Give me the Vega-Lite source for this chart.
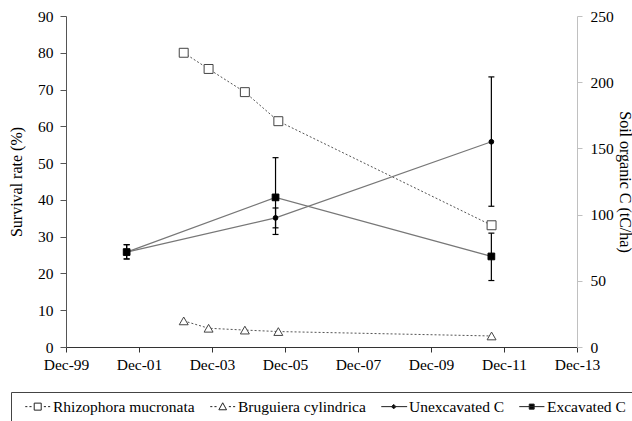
{
  "$schema": "https://vega.github.io/schema/vega-lite/v6.json",
  "width": 511,
  "height": 331,
  "autosize": "none",
  "padding": {"left": 66, "top": 16, "right": 55, "bottom": 74},
  "background": "white",
  "config": {
    "view": {"stroke": null},
    "font": "Liberation Serif",
    "axis": {
      "labelFont": "Liberation Serif",
      "titleFont": "Liberation Serif",
      "labelFontSize": 15.5,
      "titleFontSize": 16,
      "titleFontWeight": "normal",
      "labelColor": "black",
      "titleColor": "black",
      "grid": false
    },
    "legend": {
      "orient": "none",
      "legendX": -55,
      "legendY": 376,
      "direction": "horizontal",
      "columns": 4,
      "strokeColor": "#444",
      "padding": 6.5,
      "symbolSize": 196,
      "symbolOpacity": 1,
      "symbolStrokeWidth": 1,
      "labelFont": "Liberation Serif",
      "labelFontSize": 15.5,
      "labelColor": "black",
      "labelOffset": 20,
      "columnPadding": 7,
      "labelLimit": 300
    }
  },
  "datasets": {
    "survival": [
      {"date": "2003-02-21", "series": "Rhizophora mucronata", "value": 80},
      {"date": "2003-10-28", "series": "Rhizophora mucronata", "value": 75.6},
      {"date": "2004-10-25", "series": "Rhizophora mucronata", "value": 69.3},
      {"date": "2005-09-25", "series": "Rhizophora mucronata", "value": 61.4},
      {"date": "2011-07-30", "series": "Rhizophora mucronata", "value": 33.1},
      {"date": "2003-02-21", "series": "Bruguiera cylindrica", "value": 7.1},
      {"date": "2003-10-28", "series": "Bruguiera cylindrica", "value": 5.1},
      {"date": "2004-10-25", "series": "Bruguiera cylindrica", "value": 4.6},
      {"date": "2005-09-25", "series": "Bruguiera cylindrica", "value": 4.2},
      {"date": "2011-07-30", "series": "Bruguiera cylindrica", "value": 3.0}
    ],
    "soil": [
      {"date": "2001-07-30", "series": "Unexcavated C", "value": 71.7, "lo": 66.5, "hi": 77.3},
      {"date": "2005-08-28", "series": "Unexcavated C", "value": 97.5, "lo": 90, "hi": 105},
      {"date": "2011-07-28", "series": "Unexcavated C", "value": 155, "lo": 106.3, "hi": 204},
      {"date": "2001-07-30", "series": "Excavated C", "value": 71.7, "lo": 66.5, "hi": 77.3},
      {"date": "2005-08-28", "series": "Excavated C", "value": 113, "lo": 85, "hi": 143},
      {"date": "2011-07-28", "series": "Excavated C", "value": 68.4, "lo": 50.2, "hi": 86}
    ]
  },
  "layer": [
    {
      "data": {"name": "survival"},
      "encoding": {
        "x": {
          "field": "date", "type": "temporal",
          "scale": {"type": "utc", "domain": [{"year": 1999, "month": 12, "date": 1, "utc": true}, {"year": 2013, "month": 12, "date": 1, "utc": true}]},
          "axis": {
            "title": null, "format": "%b-%y",
            "values": [
              {"year": 1999, "month": 12, "date": 1, "utc": true},
              {"year": 2001, "month": 12, "date": 1, "utc": true},
              {"year": 2003, "month": 12, "date": 1, "utc": true},
              {"year": 2005, "month": 12, "date": 1, "utc": true},
              {"year": 2007, "month": 12, "date": 1, "utc": true},
              {"year": 2009, "month": 12, "date": 1, "utc": true},
              {"year": 2011, "month": 12, "date": 1, "utc": true},
              {"year": 2013, "month": 12, "date": 1, "utc": true}
            ],
            "domainColor": "#333", "tickColor": "#333", "tickSize": 5, "labelPadding": 5,
            "labelOverlap": false, "labelFlush": false,
            "encode": {"ticks": {"update": {"y": {"value": -5}}}}
          }
        },
        "y": {
          "field": "value", "type": "quantitative",
          "title": "Survival rate (%)",
          "scale": {"domain": [0, 90], "nice": false, "zero": true},
          "axis": {
            "orient": "left", "values": [0, 10, 20, 30, 40, 50, 60, 70, 80, 90],
            "domainColor": "#555", "tickColor": "#555", "tickSize": 6, "labelPadding": 7,
            "titlePadding": 13,
            "encode": {"ticks": {"update": {"x": {"value": 6}}}}
          }
        }
      },
      "layer": [
        {
          "mark": {"type": "line", "strokeDash": [2, 2], "color": "#555", "strokeWidth": 1},
          "encoding": {"detail": {"field": "series"}}
        },
        {
          "transform": [{"filter": "datum.series === 'Rhizophora mucronata'"}],
          "mark": {"type": "point", "shape": "square", "filled": true, "fill": "white", "stroke": "#444", "strokeWidth": 1, "opacity": 1, "size": 80}
        },
        {
          "transform": [{"filter": "datum.series === 'Bruguiera cylindrica'"}],
          "mark": {"type": "point", "shape": "triangle-up", "filled": true, "fill": "white", "stroke": "#444", "strokeWidth": 1, "opacity": 1, "size": 80}
        },
        {
          "mark": {"type": "point", "filled": true, "stroke": "#222", "strokeWidth": 1, "opacity": 0, "size": 196},
          "encoding": {
            "shape": {
              "field": "series", "type": "nominal",
              "scale": {
                "domain": ["Rhizophora mucronata", "Bruguiera cylindrica", "Unexcavated C", "Excavated C"],
                "range": [
                  "M0,0H0.3M0.6,0H0.9M1.28,-0.5H2.28V0.5H1.28ZM2.66,0H2.96M3.26,0H3.56",
                  "M0,0H0.3M0.6,0H0.9M1.78,-0.55L2.33,0.45L1.23,0.45ZM2.66,0H2.96M3.26,0H3.56",
                  "M0,0H3.7M1.78,-0.32L2.1,0L1.78,0.32L1.46,0Z",
                  "M0,0H3.6M1.43,-0.36H2.13V0.36H1.43Z"
                ]
              },
              "legend": {"title": null}
            },
            "fill": {
              "field": "series", "type": "nominal",
              "scale": {
                "domain": ["Rhizophora mucronata", "Bruguiera cylindrica", "Unexcavated C", "Excavated C"],
                "range": ["white", "white", "black", "black"]
              },
              "legend": {"title": null}
            }
          }
        }
      ]
    },
    {
      "data": {"name": "soil"},
      "encoding": {
        "x": {
          "field": "date", "type": "temporal",
          "scale": {"type": "utc", "domain": [{"year": 1999, "month": 12, "date": 1, "utc": true}, {"year": 2013, "month": 12, "date": 1, "utc": true}]}
        },
        "y": {
          "field": "value", "type": "quantitative",
          "title": "Soil organic C (tC/ha)",
          "scale": {"domain": [0, 250], "nice": false, "zero": true},
          "axis": {
            "orient": "right", "values": [0, 50, 100, 150, 200, 250],
            "domainColor": "#c0c0c0", "tickColor": "#c0c0c0", "tickSize": 5, "labelPadding": 8,
            "titlePadding": 3
          }
        }
      },
      "layer": [
        {
          "mark": {"type": "line", "color": "#777", "strokeWidth": 1.2},
          "encoding": {"detail": {"field": "series"}}
        },
        {
          "mark": {"type": "rule", "color": "black", "strokeWidth": 1.2},
          "encoding": {
            "y": {"field": "lo", "type": "quantitative", "title": "Soil organic C (tC/ha)"},
            "y2": {"field": "hi"}
          }
        },
        {
          "mark": {"type": "point", "shape": "M-1,0H1", "filled": false, "stroke": "black", "strokeWidth": 1.2, "opacity": 1, "size": 36},
          "encoding": {"y": {"field": "lo", "type": "quantitative", "title": "Soil organic C (tC/ha)"}}
        },
        {
          "mark": {"type": "point", "shape": "M-1,0H1", "filled": false, "stroke": "black", "strokeWidth": 1.2, "opacity": 1, "size": 36},
          "encoding": {"y": {"field": "hi", "type": "quantitative", "title": "Soil organic C (tC/ha)"}}
        },
        {
          "transform": [{"filter": "datum.series === 'Unexcavated C'"}],
          "mark": {"type": "point", "shape": "circle", "filled": true, "fill": "black", "stroke": "black", "strokeWidth": 1, "opacity": 1, "size": 22}
        },
        {
          "transform": [{"filter": "datum.series === 'Excavated C'"}],
          "mark": {"type": "point", "shape": "square", "filled": true, "fill": "black", "stroke": "black", "strokeWidth": 1, "opacity": 1, "size": 45}
        }
      ]
    }
  ],
  "resolve": {"scale": {"y": "independent"}}
}
